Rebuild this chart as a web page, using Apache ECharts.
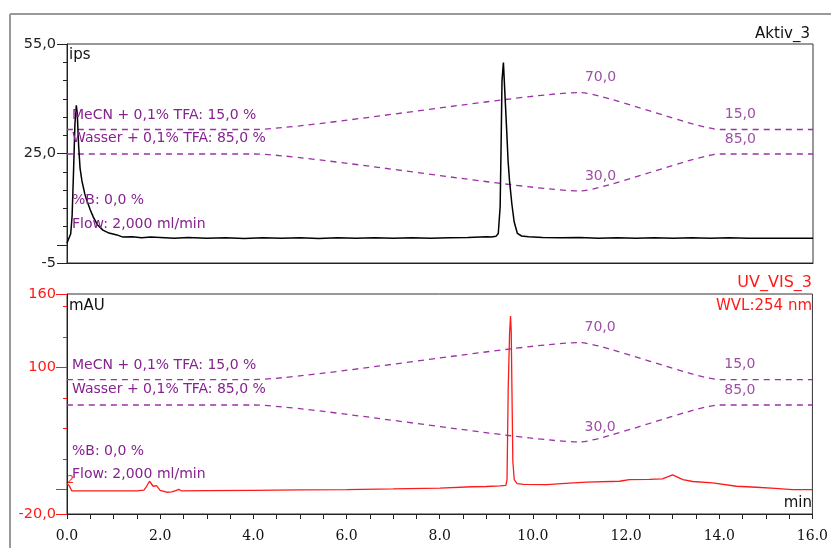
<!DOCTYPE html>
<html><head><meta charset="utf-8">
<script src="https://cdn.jsdelivr.net/npm/echarts@6/dist/echarts.min.js"></script>
<style>html,body{margin:0;padding:0;background:#fff}#c{width:831px;height:548px}</style>
</head><body><div id="c"></div>
<script>
// ---- data ----
const timeTop = [0.00,0.04,0.08,0.11,0.14,0.17,0.20,0.22,0.25,0.28,0.32,0.38,0.42,0.50,0.56,0.65,0.77,0.90,1.07,1.20,1.40,1.60,1.80,2.00,2.30,2.60,3.00,3.40,3.80,4.20,4.60,5.00,5.40,5.80,6.20,6.60,7.00,7.40,7.80,8.20,8.60,9.00,9.10,9.14,9.20,9.25,9.29,9.31,9.33,9.36,9.40,9.43,9.46,9.49,9.54,9.59,9.66,9.75,9.90,10.2,10.6,11.0,11.4,11.8,12.2,12.6,13.0,13.4,13.8,14.2,14.6,15.0,15.5,16.0];
const ipsTop  = [0.5,1.0,3.0,8.0,20,33,38.2,36,27,21,17.5,14,12.3,9.5,7.7,5.5,4.0,3.2,2.7,2.1,2.2,1.9,2.1,2.0,1.8,2.0,1.8,1.9,1.7,1.9,1.8,1.9,1.7,1.9,1.8,1.9,1.8,1.9,1.8,1.9,2.0,2.2,2.1,1.7,2.3,3.1,10.4,26.9,45,49.9,49.5,31.4,23,17.7,11.3,6.3,3.1,2.4,2.2,2.0,1.9,2.0,1.8,1.9,1.8,1.9,1.8,1.9,1.8,1.9,1.8,1.8,1.8,1.8];

const timeUV = [0.00,0.05,0.10,0.5,1.0,1.5,1.65,1.71,1.77,1.85,1.92,2.00,2.14,2.25,2.35,2.40,2.45,3.0,4.0,5.0,6.0,7.0,8.0,8.7,9.0,9.3,9.42,9.445,9.47,9.50,9.52,9.535,9.55,9.57,9.60,9.66,9.8,10.3,10.7,11.15,11.86,12.07,12.5,12.78,13.0,13.22,13.43,13.86,14.37,14.8,15.2,15.57,16.0];
const mauUV  = [5,3,-1.0,-1.0,-1.0,-1.0,-0.5,2.7,6.8,2.7,3.2,-0.6,-2.2,-1.9,-0.6,0.2,-1.0,-0.8,-0.6,-0.3,0,0.5,1.2,2.3,2.5,3.0,3.5,8.2,82,128,142,130,83,23,8.2,4.9,4.2,4.1,5.0,6.0,6.8,8.2,8.4,8.7,12,8.2,6.6,5.4,2.7,1.9,1.0,0,0];

const gradTime  = [0, 4, 11, 14, 16];
const mecnPct   = [15, 15, 70, 15, 15];
const wasserPct = [85, 85, 30, 85, 85];
const gradLabelTime = [11, 14];
const mecnLabelPct  = [70, 15];
const wasserLabelPct= [30, 85];

const topLabelVals = [-5, 25, 55];
const topLabelText = ['-5', '25,0', '55,0'];
const botLabelVals = [-20, 100, 160];
const botLabelText = ['-20,0', '100', '160'];
const topMajorTicks = [-5, 0, 25, 55];
const botMinorTicks = [0, 25, 50, 75, 100, 125, 150];
const botMajorTicks = [-20, 0, 100, 160];

const textLeft = ['MeCN + 0,1% TFA: 15,0 %', 'Wasser + 0,1% TFA: 85,0 %', '%B: 0,0 %', 'Flow: 2,000 ml/min'];

// ---- build ----
const zip = (a, b) => a.map((x, i) => [x, b[i]]);
const PURPLE_LINE = '#9c32a6';
const PURPLE_TEXT = '#862290';
const RED = '#ff1a1a';
const AX = '#222';
const SANS = 'DejaVu Sans';
const fmtPct = v => v.toFixed(1).replace('.', ',');

const chart = echarts.init(document.getElementById('c'), null, {renderer: 'canvas'});

function gradSeries(xi, yi, data) {
  return {type: 'line', xAxisIndex: xi, yAxisIndex: yi, data: data, symbol: 'none', showSymbol: false,
    lineStyle: {color: PURPLE_LINE, width: 1.3, type: [6, 5]}, smooth: 0.15, z: 2, silent: true, animation: false};
}
function labelSeries(xi, yi, data) {
  return {type: 'scatter', xAxisIndex: xi, yAxisIndex: yi, data: data, symbolSize: 0.1,
    itemStyle: {color: 'transparent'}, silent: true, animation: false,
    label: {show: true, position: 'right', distance: 5, offset: [0, -15], color: PURPLE_TEXT,
      fontFamily: SANS, fontSize: 14, formatter: p => fmtPct(p.value[1])}};
}
function hiddenY(grid, min, max) {
  return {type: 'value', gridIndex: grid, min: min, max: max, show: false, position: 'right'};
}

const texts = [];
const topY = [115, 138.5, 200.5, 224];
const botY = [365.5, 389, 451.5, 474];
textLeft.forEach((t, i) => {
  texts.push({type: 'text', x: 72, y: topY[i], style: {text: t, fill: PURPLE_TEXT, font: '14px "DejaVu Sans"', verticalAlign: 'middle', align: 'left'}, z: 10});
  texts.push({type: 'text', x: 72, y: botY[i], style: {text: t, fill: PURPLE_TEXT, font: '14px "DejaVu Sans"', verticalAlign: 'middle', align: 'left'}, z: 10});
});

const option = {
  animation: false,
  backgroundColor: '#fff',
  grid: [
    {left: 67, right: 18, top: 44, height: 219, show: true, borderColor: '#333', borderWidth: 1, backgroundColor: 'transparent'},
    {left: 67, right: 18, top: 294, height: 220, show: true, borderColor: '#333', borderWidth: 1, backgroundColor: 'transparent'}
  ],
  xAxis: [
    {type: 'value', gridIndex: 0, position: 'bottom', min: 0, max: 16, interval: 2,
     axisLine: {show: true, onZero: false, lineStyle: {color: AX}},
     axisTick: {show: false}, axisLabel: {show: false}, splitLine: {show: false}},
    {type: 'value', gridIndex: 1, position: 'bottom', min: 0, max: 16, interval: 2,
     axisLine: {show: true, onZero: false, lineStyle: {color: AX}},
     axisTick: {show: true, length: 5, lineStyle: {color: AX}},
     minorTick: {show: true, splitNumber: 4, length: 5, lineStyle: {color: AX}},
     axisLabel: {margin: 15, color: '#111', fontFamily: 'DejaVu Serif', fontSize: 14, formatter: v => v.toFixed(1)},
     splitLine: {show: false}, minorSplitLine: {show: false}}
  ],
  yAxis: [
    {type: 'value', gridIndex: 0, position: 'left', min: -5, max: 55, interval: 5,
     axisLine: {show: true, onZero: false, lineStyle: {color: AX}},
     axisTick: {show: true, length: 4, lineStyle: {color: AX}},
     axisLabel: {show: true, customValues: topLabelVals, margin: 11, color: '#222', fontFamily: SANS, fontSize: 14.5,
       formatter: v => topLabelText[topLabelVals.indexOf(v)] || ''},
     splitLine: {show: false}},
    {type: 'value', gridIndex: 0, position: 'left', min: -5, max: 55,
     axisLine: {show: false, onZero: false}, axisTick: {show: true, length: 10, customValues: topMajorTicks, lineStyle: {color: AX}},
     axisLabel: {show: false}, splitLine: {show: false}},
    hiddenY(0, -183.7, 142.2),
    hiddenY(0, -77.2, 248.7),
    {type: 'value', gridIndex: 1, position: 'left', min: -20, max: 160,
     axisLine: {show: true, onZero: false, lineStyle: {color: AX}},
     axisTick: {show: true, length: 4, customValues: botMinorTicks, lineStyle: {color: RED}},
     axisLabel: {show: true, customValues: botLabelVals, margin: 11, color: RED, fontFamily: SANS, fontSize: 14.5,
       formatter: v => botLabelText[botLabelVals.indexOf(v)] || ''},
     splitLine: {show: false}},
    {type: 'value', gridIndex: 1, position: 'left', min: -20, max: 160,
     axisLine: {show: false, onZero: false}, axisTick: {show: true, length: 11, customValues: botMajorTicks, lineStyle: {color: RED}},
     axisLabel: {show: false}, splitLine: {show: false}},
    hiddenY(1, -185.1, 142.3),
    hiddenY(1, -77.2, 250.2)
  ],
  series: [
    gradSeries(0, 2, zip(gradTime, mecnPct)),
    gradSeries(0, 3, zip(gradTime, wasserPct)),
    labelSeries(0, 2, zip(gradLabelTime, mecnLabelPct)),
    labelSeries(0, 3, zip(gradLabelTime, wasserLabelPct)),
    {type: 'line', xAxisIndex: 0, yAxisIndex: 0, data: zip(timeTop, ipsTop), symbol: 'none', showSymbol: false,
     lineStyle: {color: '#000', width: 1.5}, z: 3},
    gradSeries(1, 6, zip(gradTime, mecnPct)),
    gradSeries(1, 7, zip(gradTime, wasserPct)),
    labelSeries(1, 6, zip(gradLabelTime, mecnLabelPct)),
    labelSeries(1, 7, zip(gradLabelTime, wasserLabelPct)),
    {type: 'line', xAxisIndex: 1, yAxisIndex: 4, data: zip(timeUV, mauUV), symbol: 'none', showSymbol: false,
     lineStyle: {color: RED, width: 1.3}, z: 3}
  ],
  graphic: [
    {type: 'line', shape: {x1: 10, y1: 14, x2: 831, y2: 14}, style: {stroke: '#999', lineWidth: 2}, silent: true},
    {type: 'line', shape: {x1: 10, y1: 14, x2: 10, y2: 548}, style: {stroke: '#999', lineWidth: 2}, silent: true},
    {type: 'text', x: 810, y: 34, style: {text: 'Aktiv_3', fill: '#111', font: '15px "DejaVu Sans"', align: 'right', verticalAlign: 'middle'}},
    {type: 'text', x: 812, y: 283, style: {text: 'UV_VIS_3', fill: RED, font: '16px "DejaVu Sans"', align: 'right', verticalAlign: 'middle'}},
    {type: 'text', x: 812, y: 306, style: {text: 'WVL:254 nm', fill: RED, font: '15px "DejaVu Sans"', align: 'right', verticalAlign: 'middle'}},
    {type: 'text', x: 69, y: 55, style: {text: 'ips', fill: '#111', font: '15px "DejaVu Sans"', align: 'left', verticalAlign: 'middle'}},
    {type: 'text', x: 69, y: 306, style: {text: 'mAU', fill: '#111', font: '15px "DejaVu Sans"', align: 'left', verticalAlign: 'middle'}},
    {type: 'text', x: 812, y: 503, style: {text: 'min', fill: '#111', font: '15px "DejaVu Sans"', align: 'right', verticalAlign: 'middle'}},
    {type: 'text', x: 67, y: 480, style: {text: '2', fill: RED, font: '11px "DejaVu Sans"', align: 'left', verticalAlign: 'middle'}}
  ].concat(texts)
};
chart.setOption(option);
</script></body></html>
